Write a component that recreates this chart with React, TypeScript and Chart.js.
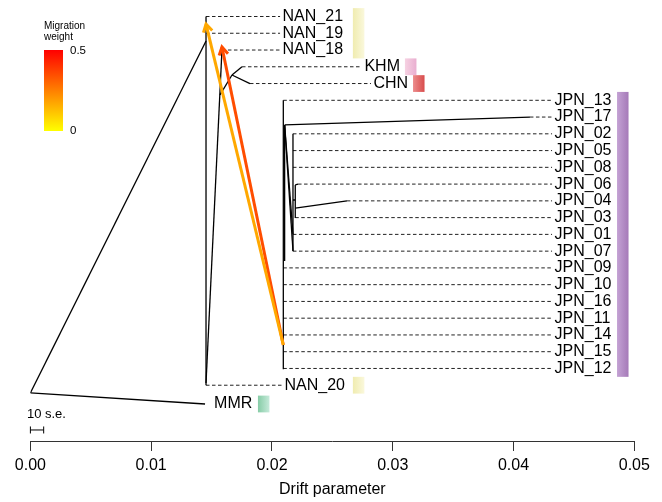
import React, { useEffect, useRef } from "react";
import { Chart, registerables } from "chart.js";

Chart.register(...registerables);

const FONT = "'Liberation Sans', Arial, Helvetica, sans-serif";

// ---------- DATA ----------
// Leaves, top to bottom (row index on the vertical axis)
const leafNames = [
  "NAN_21", "NAN_19", "NAN_18", "KHM", "CHN",
  "JPN_13", "JPN_17", "JPN_02", "JPN_05", "JPN_08", "JPN_06", "JPN_04", "JPN_03",
  "JPN_01", "JPN_07", "JPN_09", "JPN_10", "JPN_16", "JPN_11", "JPN_14", "JPN_15", "JPN_12",
  "NAN_20", "MMR",
];
const leafRows = [0, 1, 2, 3, 4, 5, 6, 7, 8, 9, 10, 11, 12, 13, 14, 15, 16, 17, 18, 19, 20, 21, 22, 23.12];
const leafPop = [
  "NAN", "NAN", "NAN", "KHM", "CHN",
  "JPN", "JPN", "JPN", "JPN", "JPN", "JPN", "JPN", "JPN",
  "JPN", "JPN", "JPN", "JPN", "JPN", "JPN", "JPN", "JPN", "JPN",
  "NAN", "MMR",
];
// drift value of each leaf tip (start of dashed connector)
const leafTipDrift = [
  0.01454, 0.01454, 0.01586, 0.01752, 0.01818,
  0.02094, 0.04136, 0.02174, 0.02174, 0.02174, 0.02216, 0.02621, 0.02193,
  0.02174, 0.02174, 0.02094, 0.02094, 0.02094, 0.02094, 0.02094, 0.02094, 0.02094,
  0.01454, 0.01446,
];
// drift value where the label starts (end of dashed connector)
const leafLabelDrift = [
  0.02067, 0.02067, 0.02067, 0.02745, 0.0282,
  0.04319, 0.04319, 0.04319, 0.04319, 0.04319, 0.04319, 0.04319, 0.04319,
  0.04319, 0.04319, 0.04319, 0.04319, 0.04319, 0.04319, 0.04319, 0.04319, 0.04319,
  0.02083, 0.015,
];
const leafDashed = [
  true, true, true, true, true,
  true, true, true, true, true, true, true, true,
  true, true, true, true, true, true, true, true, true,
  true, false,
];

// population colour bars: start drift value
const popNames = ["NAN", "KHM", "CHN", "JPN", "MMR"];
const popBarDrift = [0.0267, 0.03101, 0.03168, 0.04857, 0.01884];

// tree edges: [drift1, row1, drift2, row2]
const treeEdges: [number, number, number, number][] = [
  [0, 22.46, 0.01454, 1.46],
  [0, 22.46, 0.01446, 23.12],
  [0.01454, 0, 0.01454, 22],
  [0.01454, 21.87, 0.01586, 2],
  [0.0157, 4.68, 0.01669, 3.49],
  [0.01669, 3.49, 0.01752, 3],
  [0.01669, 3.49, 0.01818, 4],
  [0.02094, 5, 0.02094, 21.05],
  [0.02105, 6.47, 0.02105, 14.59],
  [0.02105, 6.47, 0.04136, 6],
  [0.02105, 6.47, 0.02174, 13.99],
  [0.02105, 6.47, 0.02174, 12.98],
  [0.02174, 7, 0.02174, 14],
  [0.02174, 10.95, 0.02193, 10.95],
  [0.02193, 10.05, 0.02193, 12.02],
  [0.02193, 11.43, 0.02621, 11],
  [0.02193, 10.05, 0.02216, 10],
];

// migration edges
const migSourceDrift = [0.02094, 0.02094];
const migSourceRow = [19.6, 19.6];
const migTargetDrift = [0.01454, 0.01586];
const migTargetRow = [0.45, 1.82];
const migWeight = [0.17, 0.35];

// axis
const xTicks = [0, 0.01, 0.02, 0.03, 0.04, 0.05];
const legendMax = 0.5;
const seBarDrift = 0.0011;
const seBarRow = 24.67;
const seLabelRow = 23.72;

// ---------- STYLE ----------
const popColors: Record<string, [string, string]> = {
  NAN: ["#f0ecb0", "#faf8dc"],
  KHM: ["#f6d2e2", "#e9aed0"],
  CHN: ["#ec8c8c", "#d84c4c"],
  JPN: ["#c4a2d4", "#a57ab8"],
  MMR: ["#86cca6", "#c6eada"],
};

function weightColor(w: number) {
  const f = Math.min(1, Math.max(0, w / legendMax));
  const g = Math.round(255 * (1 - f));
  return `rgb(255,${g},0)`;
}

const overlay = {
  id: "overlay",
  afterDatasetsDraw(chart: any) {
    const { ctx } = chart;
    const xs = chart.scales.x;
    const ys = chart.scales.y;
    ctx.save();

    // arrowheads (draw highest index first so index 0 is on top)
    for (let i = migWeight.length - 1; i >= 0; i--) {
      const x1 = xs.getPixelForValue(migSourceDrift[i]);
      const y1 = ys.getPixelForValue(migSourceRow[i]);
      const x2 = xs.getPixelForValue(migTargetDrift[i]);
      const y2 = ys.getPixelForValue(migTargetRow[i]);
      const ang = Math.atan2(y2 - y1, x2 - x1);
      const L = 9;
      const a = Math.PI / 6;
      ctx.strokeStyle = weightColor(migWeight[i]);
      ctx.lineWidth = 3;
      ctx.lineJoin = "miter";
      ctx.beginPath();
      ctx.moveTo(x2 - L * Math.cos(ang - a), y2 - L * Math.sin(ang - a));
      ctx.lineTo(x2, y2);
      ctx.lineTo(x2 - L * Math.cos(ang + a), y2 - L * Math.sin(ang + a));
      ctx.stroke();
    }

    // population colour bars (grouped by consecutive runs)
    const barW = 11.5;
    let i = 0;
    while (i < leafNames.length) {
      let j = i;
      while (j + 1 < leafNames.length && leafPop[j + 1] === leafPop[i] && leafRows[j + 1] - leafRows[j] === 1) j++;
      const p = popNames.indexOf(leafPop[i]);
      const bx = xs.getPixelForValue(popBarDrift[p]);
      const top = ys.getPixelForValue(leafRows[i] - 0.5);
      const bot = ys.getPixelForValue(leafRows[j] + 0.5);
      const cols = popColors[leafPop[i]];
      const g = ctx.createLinearGradient(bx, 0, bx + barW, 0);
      g.addColorStop(0, cols[0]);
      g.addColorStop(1, cols[1]);
      ctx.fillStyle = g;
      ctx.fillRect(bx, top, barW, bot - top);
      i = j + 1;
    }

    // leaf labels
    ctx.fillStyle = "#000";
    ctx.font = `16px ${FONT}`;
    ctx.textBaseline = "middle";
    ctx.textAlign = "left";
    leafNames.forEach((name, k) => {
      const lx = xs.getPixelForValue(leafLabelDrift[k]) + 2.5;
      const ly = ys.getPixelForValue(leafRows[k]);
      ctx.fillText(name, lx, ly);
    });

    // scale bar (10 s.e.)
    const sx0 = xs.getPixelForValue(0);
    const sx1 = xs.getPixelForValue(seBarDrift);
    const sy = ys.getPixelForValue(seBarRow);
    ctx.strokeStyle = "#000";
    ctx.lineWidth = 1;
    ctx.beginPath();
    ctx.moveTo(sx0, sy);
    ctx.lineTo(sx1, sy);
    ctx.moveTo(sx0, sy - 3.5);
    ctx.lineTo(sx0, sy + 3.5);
    ctx.moveTo(sx1, sy - 3.5);
    ctx.lineTo(sx1, sy + 3.5);
    ctx.stroke();
    ctx.font = `13px ${FONT}`;
    ctx.fillText("10 s.e.", sx0 - 3.5, ys.getPixelForValue(seLabelRow));

    // legend
    const lgX = 44, lgTop = 50, lgBot = 131, lgW = 19;
    const lg = ctx.createLinearGradient(0, lgBot, 0, lgTop);
    lg.addColorStop(0, weightColor(0));
    lg.addColorStop(1, weightColor(legendMax));
    ctx.fillStyle = lg;
    ctx.fillRect(lgX, lgTop, lgW, lgBot - lgTop);
    ctx.fillStyle = "#000";
    ctx.font = `10px ${FONT}`;
    ctx.fillText("Migration", 44, 26);
    ctx.fillText("weight", 44, 37.5);
    ctx.font = `11.5px ${FONT}`;
    ctx.fillText(String(legendMax), 70, lgTop + 1);
    ctx.fillText("0", 70, lgBot);

    ctx.restore();
  },
};

export default function App() {
  const ref = useRef<HTMLCanvasElement | null>(null);

  useEffect(() => {
    if (!ref.current) return;
    const datasets: any[] = [];

    migWeight.forEach((w, i) => {
      datasets.push({
        data: [
          { x: migSourceDrift[i], y: migSourceRow[i] },
          { x: migTargetDrift[i], y: migTargetRow[i] },
        ],
        borderColor: weightColor(w),
        borderWidth: 3,
        order: i,
      });
    });

    treeEdges.forEach((e) => {
      datasets.push({
        data: [
          { x: e[0], y: e[1] },
          { x: e[2], y: e[3] },
        ],
        borderColor: "#000",
        borderWidth: 1.3,
        order: 10,
      });
    });

    leafNames.forEach((_, k) => {
      if (!leafDashed[k]) return;
      datasets.push({
        data: [
          { x: leafTipDrift[k], y: leafRows[k] },
          { x: leafLabelDrift[k], y: leafRows[k] },
        ],
        borderColor: "#222",
        borderWidth: 1,
        borderDash: [3.5, 2.5],
        order: 20,
      });
    });

    datasets.forEach((d) => {
      d.showLine = true;
      d.pointRadius = 0;
      d.pointHoverRadius = 0;
      d.fill = false;
      d.tension = 0;
    });

    const chart = new Chart(ref.current, {
      type: "scatter",
      data: { datasets },
      options: {
        animation: false,
        responsive: false,
        events: [],
        layout: { padding: { left: 30.4, right: 27.7, top: 0, bottom: 0 } },
        plugins: { legend: { display: false }, tooltip: { enabled: false } },
        scales: {
          x: {
            type: "linear",
            min: 0,
            max: 0.05,
            afterBuildTicks: (scale: any) => {
              scale.ticks = xTicks.map((v) => ({ value: v }));
            },
            afterFit: (scale: any) => {
              scale.height = 61;
            },
            ticks: {
              color: "#000",
              font: { family: FONT, size: 16 },
              padding: 5,
              maxRotation: 0,
              callback: (v: any) => Number(v).toFixed(2),
            },
            grid: {
              drawOnChartArea: false,
              drawTicks: true,
              tickLength: 10,
              tickColor: "#333",
              tickWidth: 1,
            },
            border: { display: true, color: "#333", width: 1 },
            title: {
              display: true,
              text: "Drift parameter",
              color: "#000",
              font: { family: FONT, size: 16 },
              padding: { top: 0, bottom: 2.4 },
            },
          },
          y: {
            type: "linear",
            display: false,
            reverse: true,
            min: -0.9845,
            max: 25.328,
          },
        },
      },
      plugins: [overlay],
    } as any);

    return () => chart.destroy();
  }, []);

  return (
    <div style={{ position: "fixed", left: 0, top: 0, width: 662, height: 502, background: "#fff" }}>
      <canvas ref={ref} width={662} height={502} style={{ display: "block" }} />
    </div>
  );
}
